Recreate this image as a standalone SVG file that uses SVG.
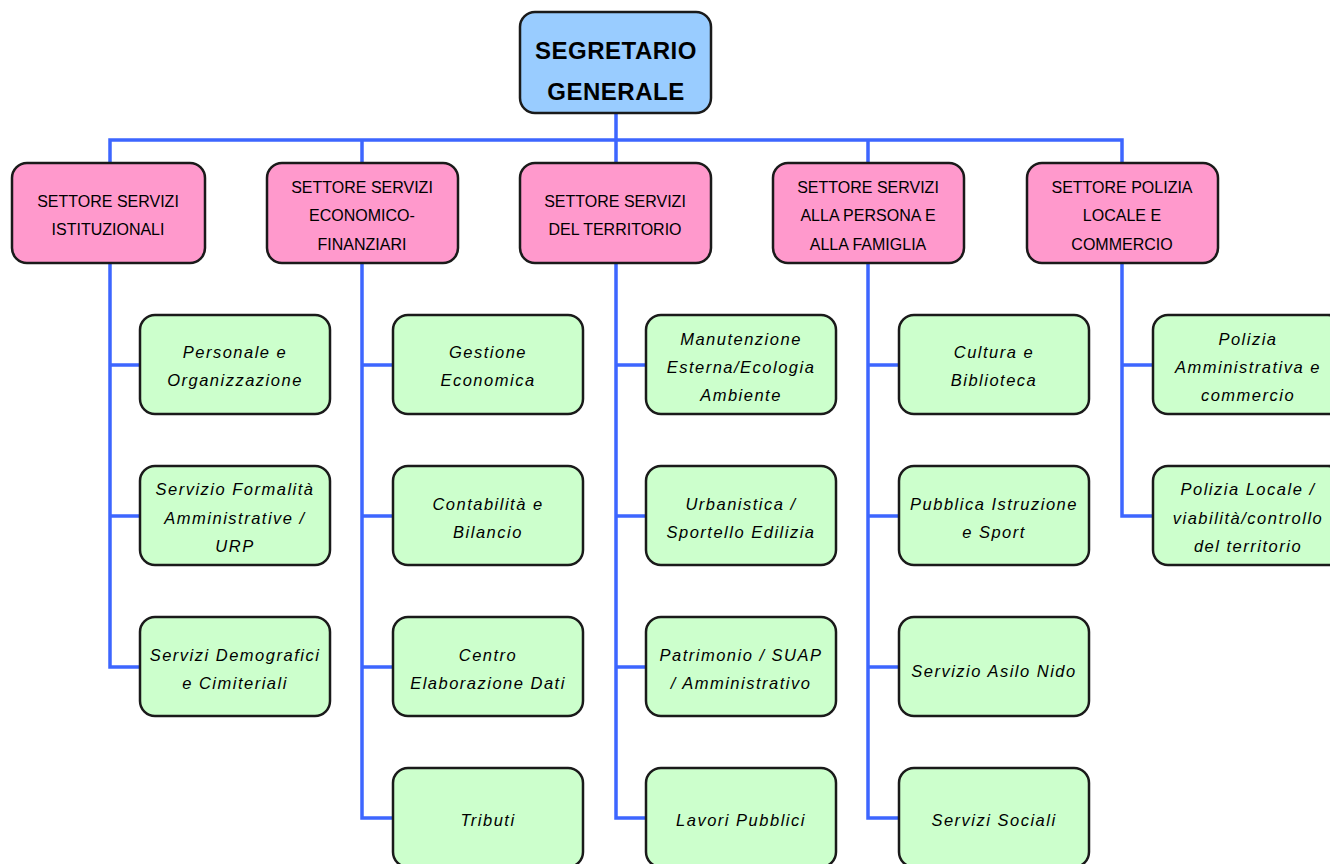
<svg xmlns="http://www.w3.org/2000/svg" width="1330" height="864" viewBox="0 0 1330 864">
<style>
.top{fill:#99ccff;stroke:#1a1a1a;stroke-width:2.5}
.sec{fill:#ff99cc;stroke:#1a1a1a;stroke-width:2.5}
.ch{fill:#ccffcc;stroke:#1a1a1a;stroke-width:2.5}
.tt{font-family:"Liberation Sans",Arial,sans-serif;font-size:24px;font-weight:bold;letter-spacing:0.5px;fill:#000;text-anchor:middle}
.st{font-family:"Liberation Sans",Arial,sans-serif;font-size:16px;fill:#000;text-anchor:middle}
.ct{font-family:"Liberation Sans",Arial,sans-serif;font-size:16.5px;font-style:italic;letter-spacing:1.5px;fill:#000;text-anchor:middle}
.ln{fill:none;stroke:#3d66ff;stroke-width:3.5}
</style>
<rect width="1330" height="864" fill="#ffffff"/>
<g id="connectors">
<path class="ln" d="M616 113 V140 M110 163 V140 H1122 V163 M362 140 V163 M616 140 V163 M868 140 V163"/>
<path class="ln" d="M110 263 V667 H140 M110 365 H140 M110 516 H140"/>
<path class="ln" d="M362 263 V818 H393 M362 365 H393 M362 516 H393 M362 667 H393"/>
<path class="ln" d="M616 263 V818 H646 M616 365 H646 M616 516 H646 M616 667 H646"/>
<path class="ln" d="M868 263 V818 H899 M868 365 H899 M868 516 H899 M868 667 H899"/>
<path class="ln" d="M1122 263 V516 H1153 M1122 365 H1153"/>
</g>
<g id="segretario"><rect class="top" x="520" y="12" width="191" height="101" rx="15"/><text class="tt" x="616" y="59">SEGRETARIO</text><text class="tt" x="616" y="100">GENERALE</text></g>
<g id="s1"><rect class="sec" x="12" y="163" width="193" height="100" rx="15"/><text class="st" x="108" y="207">SETTORE SERVIZI</text><text class="st" x="108" y="235">ISTITUZIONALI</text></g>
<g id="s2"><rect class="sec" x="267" y="163" width="191" height="100" rx="15"/><text class="st" x="362" y="193">SETTORE SERVIZI</text><text class="st" x="362" y="221">ECONOMICO-</text><text class="st" x="362" y="250">FINANZIARI</text></g>
<g id="s3"><rect class="sec" x="520" y="163" width="191" height="100" rx="15"/><text class="st" x="615" y="207">SETTORE SERVIZI</text><text class="st" x="615" y="235">DEL TERRITORIO</text></g>
<g id="s4"><rect class="sec" x="773" y="163" width="191" height="100" rx="15"/><text class="st" x="868" y="193">SETTORE SERVIZI</text><text class="st" x="868" y="221">ALLA PERSONA E</text><text class="st" x="868" y="250">ALLA FAMIGLIA</text></g>
<g id="s5"><rect class="sec" x="1027" y="163" width="191" height="100" rx="15"/><text class="st" x="1122" y="193">SETTORE POLIZIA</text><text class="st" x="1122" y="221">LOCALE E</text><text class="st" x="1122" y="250">COMMERCIO</text></g>

<g id="c1a"><rect class="ch" x="140" y="315" width="190" height="99" rx="15"/><text class="ct" x="235" y="358">Personale e</text><text class="ct" x="235" y="386">Organizzazione</text></g>
<g id="c1b"><rect class="ch" x="140" y="466" width="190" height="99" rx="15"/><text class="ct" x="235" y="495">Servizio Formalità</text><text class="ct" x="235" y="524">Amministrative /</text><text class="ct" x="235" y="552">URP</text></g>
<g id="c1c"><rect class="ch" x="140" y="617" width="190" height="99" rx="15"/><text class="ct" x="235" y="661">Servizi Demografici</text><text class="ct" x="235" y="689">e Cimiteriali</text></g>

<g id="c2a"><rect class="ch" x="393" y="315" width="190" height="99" rx="15"/><text class="ct" x="488" y="358">Gestione</text><text class="ct" x="488" y="386">Economica</text></g>
<g id="c2b"><rect class="ch" x="393" y="466" width="190" height="99" rx="15"/><text class="ct" x="488" y="510">Contabilità e</text><text class="ct" x="488" y="538">Bilancio</text></g>
<g id="c2c"><rect class="ch" x="393" y="617" width="190" height="99" rx="15"/><text class="ct" x="488" y="661">Centro</text><text class="ct" x="488" y="689">Elaborazione Dati</text></g>
<g id="c2d"><rect class="ch" x="393" y="768" width="190" height="99" rx="15"/><text class="ct" x="488" y="826">Tributi</text></g>

<g id="c3a"><rect class="ch" x="646" y="315" width="190" height="99" rx="15"/><text class="ct" x="741" y="345">Manutenzione</text><text class="ct" x="741" y="373">Esterna/Ecologia</text><text class="ct" x="741" y="401">Ambiente</text></g>
<g id="c3b"><rect class="ch" x="646" y="466" width="190" height="99" rx="15"/><text class="ct" x="741" y="510">Urbanistica /</text><text class="ct" x="741" y="538">Sportello Edilizia</text></g>
<g id="c3c"><rect class="ch" x="646" y="617" width="190" height="99" rx="15"/><text class="ct" x="741" y="661">Patrimonio / SUAP</text><text class="ct" x="741" y="689">/ Amministrativo</text></g>
<g id="c3d"><rect class="ch" x="646" y="768" width="190" height="99" rx="15"/><text class="ct" x="741" y="826">Lavori Pubblici</text></g>

<g id="c4a"><rect class="ch" x="899" y="315" width="190" height="99" rx="15"/><text class="ct" x="994" y="358">Cultura e</text><text class="ct" x="994" y="386">Biblioteca</text></g>
<g id="c4b"><rect class="ch" x="899" y="466" width="190" height="99" rx="15"/><text class="ct" x="994" y="510">Pubblica Istruzione</text><text class="ct" x="994" y="538">e Sport</text></g>
<g id="c4c"><rect class="ch" x="899" y="617" width="190" height="99" rx="15"/><text class="ct" x="994" y="677">Servizio Asilo Nido</text></g>
<g id="c4d"><rect class="ch" x="899" y="768" width="190" height="99" rx="15"/><text class="ct" x="994" y="826">Servizi Sociali</text></g>

<g id="c5a"><rect class="ch" x="1153" y="315" width="190" height="99" rx="15"/><text class="ct" x="1248" y="345">Polizia</text><text class="ct" x="1248" y="373">Amministrativa e</text><text class="ct" x="1248" y="401">commercio</text></g>
<g id="c5b"><rect class="ch" x="1153" y="466" width="190" height="99" rx="15"/><text class="ct" x="1248" y="495">Polizia Locale /</text><text class="ct" x="1248" y="524">viabilità/controllo</text><text class="ct" x="1248" y="552">del territorio</text></g>
</svg>
